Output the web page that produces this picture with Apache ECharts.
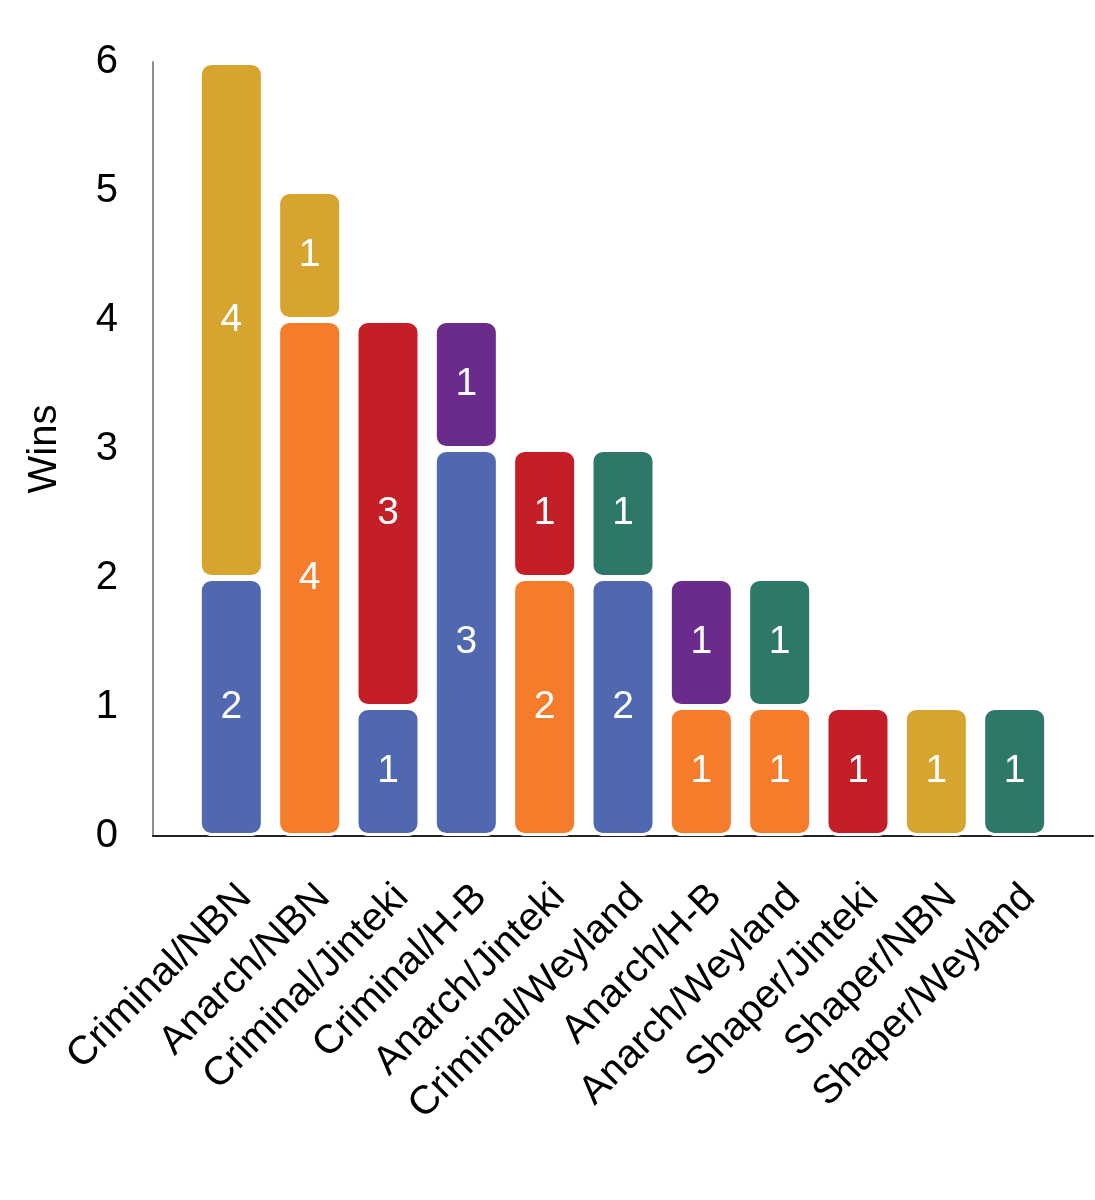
<!DOCTYPE html>
<html>
<head>
<meta charset="utf-8">
<script src="https://cdn.jsdelivr.net/npm/echarts@6/dist/echarts.min.js"></script>
<style>
html,body{margin:0;padding:0;background:#fff;}
#chart{width:1095px;height:1200px;}
</style>
</head>
<body>
<div id="chart"></div>
<script>
const categories = ['Criminal/NBN','Anarch/NBN','Criminal/Jinteki','Criminal/H-B','Anarch/Jinteki','Criminal/Weyland','Anarch/H-B','Anarch/Weyland','Shaper/Jinteki','Shaper/NBN','Shaper/Weyland'];
const criminal = [2, null, 1, 3, null, 2, null, null, null, null, null];
const anarch   = [null, 4, null, null, 2, null, 1, 1, null, null, null];
const jinteki  = [null, null, 3, null, 1, null, null, null, 1, null, null];
const nbn      = [4, 1, null, null, null, null, null, null, null, 1, null];
const hb       = [null, null, null, 1, null, null, 1, null, null, null, null];
const weyland  = [null, null, null, null, null, 1, null, 1, null, null, 1];
const yTicks = [0,1,2,3,4,5,6];

const seriesDefs = [
  {name:'Criminal', data:criminal, color:'#5068b0'},
  {name:'Anarch', data:anarch, color:'#f47c2a'},
  {name:'Jinteki', data:jinteki, color:'#c41f27'},
  {name:'NBN', data:nbn, color:'#d7a430'},
  {name:'H-B', data:hb, color:'#6a2b8c'},
  {name:'Weyland', data:weyland, color:'#2e786a'}
];
const padCat = arr => ['', ...arr, ''];
const pad = arr => [null, ...arr, null];
const font = '"Liberation Sans", Arial, Helvetica, sans-serif';

const chart = echarts.init(document.getElementById('chart'), null, {renderer:'canvas'});
chart.setOption({
  animation:false,
  backgroundColor:'#fff',
  grid:{left:153, right:2, top:62, bottom:364, containLabel:false, outerBoundsMode:'none'},
  xAxis:{
    type:'category',
    data: padCat(categories),
    boundaryGap:false,
    axisLine:{show:true, lineStyle:{color:'#222', width:2}},
    axisTick:{show:false},
    splitLine:{show:false},
    axisLabel:{
      interval:0, rotate:45, margin:41,
      align:'right', verticalAlign:'top',
      fontSize:40, color:'#000', fontFamily:font
    }
  },
  yAxis:{
    type:'value', min:0, max:6, interval:1,
    name:'Wins', nameLocation:'middle', nameGap:88,
    nameTextStyle:{fontSize:40, color:'#000', fontFamily:font},
    axisLine:{show:true, lineStyle:{color:'#8e8e8e', width:2}},
    axisTick:{show:false},
    splitLine:{show:false},
    axisLabel:{margin:35, fontSize:40, color:'#000', fontFamily:font,
      formatter: v => yTicks.includes(v) ? String(v) : ''}
  },
  series: seriesDefs.map(s => ({
    type:'bar', name:s.name, stack:'total', data:pad(s.data),
    barWidth:65,
    itemStyle:{color:s.color, borderColor:'#fff', borderWidth:3, borderRadius:11},
    label:{show:true, position:'inside', color:'#fff', fontSize:39, fontFamily:font}
  }))
});
</script>
</body>
</html>
